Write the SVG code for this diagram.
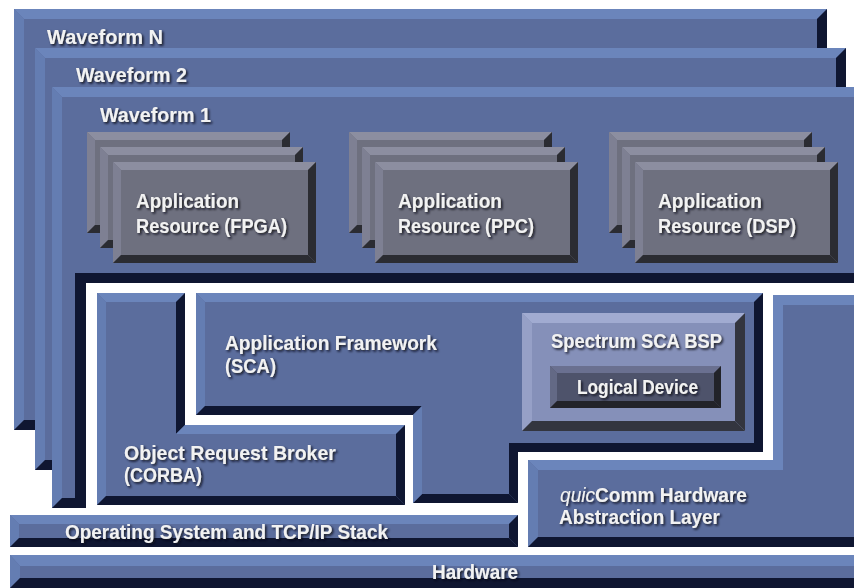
<svg xmlns="http://www.w3.org/2000/svg" xmlns:xlink="http://www.w3.org/1999/xlink" width="854" height="588" viewBox="0 0 854 588">
  <style>
    .bf { fill: #5b6d9d; }
    .bt { fill: #6b85bb; }
    .bl { fill: #647db2; }
    .bd { fill: #0f1631; }
    .gf { fill: #6e707f; }
    .gt { fill: #8c8ea0; }
    .gl { fill: #7e8093; }
    .gd { fill: #2b2c32; }
    .pf { fill: #8590b9; }
    .pt { fill: #a1abd1; }
    .pl { fill: #96a0c7; }
    .pd { fill: #33353f; }
    .lf { fill: #4e536b; }
    .lt { fill: #6a7090; }
    .ll { fill: #636985; }
    .ld { fill: #222329; }
    text { font-family: "Liberation Sans", Arial, sans-serif; font-weight: bold; font-size: 21px; fill: #f2f2f2; filter: url(#shadow); }
  </style>
  <defs>
    <filter id="shadow" x="-10%" y="-30%" width="120%" height="160%">
      <feDropShadow dx="1.6" dy="1.6" stdDeviation="0.9" flood-color="#0a0d18" flood-opacity="0.9"/>
    </filter>
    <!-- one grey resource card, 203 x 101, bevel 8 -->
    <g id="card">
      <rect class="gf" x="0" y="0" width="203" height="101"/>
      <polygon class="gt" points="0,0 203,0 195,8 8,8"/>
      <polygon class="gl" points="0,0 8,8 8,93 0,101"/>
      <polygon class="gd" points="203,0 203,101 195,93 195,8"/>
      <polygon class="gd" points="0,101 203,101 195,93 8,93"/>
    </g>
  </defs>

  <rect x="0" y="0" width="854" height="588" fill="#ffffff"/>

  <!-- waveform layers, back to front -->
  <g id="waveform-n">
    <rect class="bf" x="14" y="9" width="813" height="421"/>
    <polygon class="bt" points="14,9 827,9 817,19 24,19"/>
    <polygon class="bl" points="14,9 24,19 24,420 14,430"/>
    <polygon class="bd" points="827,9 827,430 817,420 817,19"/>
    <polygon class="bd" points="14,430 827,430 817,420 24,420"/>
    <text x="47" y="44" textLength="116" lengthAdjust="spacingAndGlyphs">Waveform N</text>
  </g>

  <g id="waveform-2">
    <rect class="bf" x="35" y="48" width="811" height="422"/>
    <polygon class="bt" points="35,48 846,48 836,58 45,58"/>
    <polygon class="bl" points="35,48 45,58 45,460 35,470"/>
    <polygon class="bd" points="846,48 846,470 836,460 836,58"/>
    <polygon class="bd" points="35,470 846,470 836,460 45,460"/>
    <text x="76" y="82" textLength="111" lengthAdjust="spacingAndGlyphs">Waveform 2</text>
  </g>

  <g id="waveform-1">
    <rect class="bf" x="52" y="87" width="818" height="421"/>
    <polygon class="bt" points="52,87 870,87 860,97 62,97"/>
    <polygon class="bl" points="52,87 62,97 62,498 52,508"/>
    <polygon class="bd" points="52,508 870,508 860,498 62,498"/>
    <!-- recessed opening holding the platform layers -->
    <rect class="bd" x="75" y="273" width="795" height="235"/>
    <rect fill="#ffffff" x="86" y="283" width="784" height="305"/>
    <text x="100" y="122" textLength="111" lengthAdjust="spacingAndGlyphs">Waveform 1</text>
  </g>

  <!-- application resource stacks -->
  <g id="resource-fpga">
    <use xlink:href="#card" x="87" y="132"/>
    <use xlink:href="#card" x="100" y="147"/>
    <use xlink:href="#card" x="113" y="162"/>
    <text x="136" y="208" textLength="103" lengthAdjust="spacingAndGlyphs">Application</text>
    <text x="136" y="233" textLength="151" lengthAdjust="spacingAndGlyphs">Resource (FPGA)</text>
  </g>

  <g id="resource-ppc">
    <use xlink:href="#card" x="349" y="132"/>
    <use xlink:href="#card" x="362" y="147"/>
    <use xlink:href="#card" x="375" y="162"/>
    <text x="398" y="208" textLength="104" lengthAdjust="spacingAndGlyphs">Application</text>
    <text x="398" y="233" textLength="136" lengthAdjust="spacingAndGlyphs">Resource (PPC)</text>
  </g>

  <g id="resource-dsp">
    <use xlink:href="#card" x="609" y="132"/>
    <use xlink:href="#card" x="622" y="147"/>
    <use xlink:href="#card" x="635" y="162"/>
    <text x="658" y="208" textLength="104" lengthAdjust="spacingAndGlyphs">Application</text>
    <text x="658" y="233" textLength="138" lengthAdjust="spacingAndGlyphs">Resource (DSP)</text>
  </g>

  <!-- object request broker: L-shaped block -->
  <g id="orb">
    <path class="bf" d="M97,293 H185 V425 H405 V505 H97 Z"/>
    <polygon class="bt" points="97,293 185,293 176,302 106,302"/>
    <polygon class="bl" points="97,293 106,302 106,496 97,505"/>
    <polygon class="bd" points="185,293 185,425 176,434 176,302"/>
    <polygon class="bt" points="185,425 405,425 396,434 176,434"/>
    <polygon class="bd" points="405,425 405,505 396,496 396,434"/>
    <polygon class="bd" points="97,505 405,505 396,496 106,496"/>
    <text x="124" y="460" textLength="212" lengthAdjust="spacingAndGlyphs">Object Request Broker</text>
    <text x="124" y="482" textLength="78" lengthAdjust="spacingAndGlyphs">(CORBA)</text>
  </g>

  <!-- application framework with its lower stem -->
  <g id="framework">
    <path class="bf" d="M196,293 H763 V452 H518 V503 H413 V415 H196 Z"/>
    <polygon class="bt" points="196,293 763,293 754,302 205,302"/>
    <polygon class="bl" points="196,293 205,302 205,406 196,415"/>
    <polygon class="bd" points="763,293 763,452 518,452 518,503 509,494 509,443 754,443 754,302"/>
    <polygon class="bd" points="413,503 518,503 509,494 422,494"/>
    <polygon class="bd" points="196,415 205,406 422,406 413,415"/>
    <polygon class="bl" points="413,415 422,406 422,494 413,503"/>
    <text x="225" y="350" textLength="212" lengthAdjust="spacingAndGlyphs">Application Framework</text>
    <text x="225" y="373" textLength="51" lengthAdjust="spacingAndGlyphs">(SCA)</text>
  </g>

  <g id="bsp">
    <rect class="pf" x="522" y="313" width="223" height="118"/>
    <polygon class="pt" points="522,313 745,313 735,323 532,323"/>
    <polygon class="pl" points="522,313 532,323 532,421 522,431"/>
    <polygon class="pd" points="745,313 745,431 735,421 735,323"/>
    <polygon class="pd" points="522,431 745,431 735,421 532,421"/>
    <text x="551" y="348" textLength="171" lengthAdjust="spacingAndGlyphs">Spectrum SCA BSP</text>
  </g>

  <g id="logical-device">
    <rect class="lf" x="550" y="366" width="171" height="42"/>
    <polygon class="lt" points="550,366 721,366 714,373 557,373"/>
    <polygon class="ll" points="550,366 557,373 557,401 550,408"/>
    <polygon class="ld" points="721,366 721,408 714,401 714,373"/>
    <polygon class="ld" points="550,408 721,408 714,401 557,401"/>
    <text x="577" y="394" textLength="121" lengthAdjust="spacingAndGlyphs">Logical Device</text>
  </g>

  <!-- hardware abstraction layer: inverted L on the right -->
  <g id="quiccomm">
    <path class="bf" d="M773,295 H870 V547 H528 V460 H773 Z"/>
    <polygon class="bt" points="773,295 870,295 870,305 783,305 783,470 538,470 528,460 773,460"/>
    <polygon class="bl" points="528,460 538,470 538,537 528,547"/>
    <polygon class="bd" points="528,547 870,547 860,537 538,537"/>
    <text x="560" y="502" textLength="187" lengthAdjust="spacingAndGlyphs"><tspan font-style="italic" font-weight="normal">quic</tspan>Comm Hardware</text>
    <text x="559" y="524" textLength="161" lengthAdjust="spacingAndGlyphs">Abstraction Layer</text>
  </g>

  <g id="os">
    <rect class="bf" x="10" y="515" width="508" height="32"/>
    <polygon class="bt" points="10,515 518,515 509,524 19,524"/>
    <polygon class="bl" points="10,515 19,524 19,538 10,547"/>
    <polygon class="bd" points="518,515 518,547 509,538 509,524"/>
    <polygon class="bd" points="10,547 518,547 509,538 19,538"/>
    <text x="65" y="539" textLength="323" lengthAdjust="spacingAndGlyphs">Operating System and TCP/IP Stack</text>
  </g>

  <g id="hardware">
    <rect class="bf" x="10" y="555" width="860" height="33"/>
    <polygon class="bt" points="10,555 870,555 860,566 20,566"/>
    <polygon class="bl" points="10,555 20,566 20,578 10,588"/>
    <polygon class="bd" points="10,588 870,588 860,578 20,578"/>
    <text x="432" y="579" textLength="86" lengthAdjust="spacingAndGlyphs">Hardware</text>
  </g>

  <g id="connectors"/>
</svg>
